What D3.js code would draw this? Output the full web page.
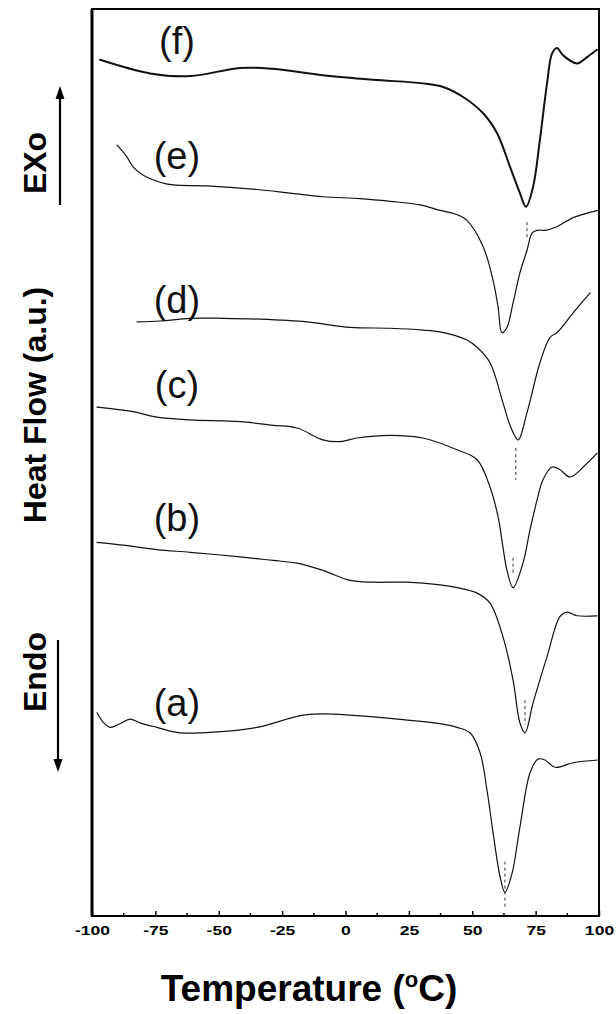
<!DOCTYPE html>
<html>
<head>
<meta charset="utf-8">
<script src="https://cdn.jsdelivr.net/npm/d3@7"></script>
<style>
  html, body { margin: 0; padding: 0; background: #fff; }
  svg { display: block; }
</style>
</head>
<body>
<svg id="chart" width="616" height="1014"></svg>
<script>
// Temperature axis
const xTicks = [-100, -75, -50, -25, 0, 25, 50, 75, 100];
const xMinorTicks = [-87.5, -62.5, -37.5, -12.5, 12.5, 37.5, 62.5, 87.5];

// DSC traces: [temperature (°C), heat flow (a.u.)], stacked from bottom (a) to top (f)
const curveA = [[-98.0,22.4],[-95.7,21.4],[-92.9,20.8],[-89.0,21.2],[-85.0,21.7],[-81.1,21.3],[-74.4,20.8],[-65.3,20.2],[-50.7,20.3],[-34.9,20.8],[-15.2,22.2],[4.5,22.1],[24.3,21.6],[37.3,21.2],[44.0,20.8],[49.1,20.2],[53.1,18.0],[55.8,13.9],[58.2,9.2],[61.0,4.3],[62.9,2.6],[65.7,4.7],[68.8,9.8],[72.8,15.8],[75.9,17.3],[78.7,17.2],[82.7,16.4],[89.8,16.9],[99.6,17.2]];
const curveB = [[-98.0,41.2],[-87.8,40.9],[-74.4,40.4],[-61.3,40.1],[-41.6,39.6],[-28.6,39.2],[-19.1,38.9],[-8.9,38.1],[1.8,37.0],[10.9,36.8],[24.3,36.8],[37.3,36.5],[44.0,36.2],[51.9,35.6],[57.0,34.5],[62.1,30.8],[66.1,26.0],[68.8,21.3],[70.8,20.2],[74.0,23.5],[79.5,28.6],[84.6,33.0],[87.4,33.5],[91.3,33.1],[99.2,33.1]];
const curveC = [[-98.0,56.1],[-83.8,55.6],[-74.4,55.0],[-61.3,54.7],[-41.6,54.5],[-28.6,54.1],[-19.1,53.8],[-8.9,52.5],[-2.2,52.3],[4.5,52.7],[17.6,53.0],[30.6,52.7],[44.0,51.4],[51.9,50.3],[57.0,47.3],[60.2,44.0],[62.1,40.7],[63.7,38.1],[66.1,36.2],[70.0,38.9],[72.8,42.6],[75.6,45.9],[77.9,48.1],[81.5,49.5],[84.6,49.2],[88.6,48.4],[94.5,49.7],[99.2,51.0]];
const curveD = [[-82.2,65.5],[-73.2,65.6],[-61.3,65.9],[-48.3,65.9],[-33.7,65.8],[-15.2,65.5],[1.8,64.9],[17.6,64.8],[30.6,64.6],[37.3,64.4],[47.9,63.5],[51.9,62.7],[57.0,61.0],[62.1,56.6],[64.9,54.1],[68.1,52.5],[71.6,55.5],[76.7,61.0],[80.7,63.8],[83.4,64.3],[89.8,66.5],[96.5,68.7]];
const curveE = [[-90.1,85.0],[-86.5,83.8],[-83.8,82.6],[-79.9,81.7],[-73.2,80.9],[-68.0,80.6],[-54.6,80.5],[-34.9,80.1],[-21.9,79.7],[-8.9,79.3],[5.7,79.1],[17.6,78.8],[29.4,78.4],[37.3,77.8],[43.2,77.4],[47.9,76.7],[54.3,73.8],[58.2,70.1],[60.2,67.1],[61.7,64.3],[63.7,64.9],[66.1,67.6],[68.8,70.9],[71.6,73.4],[73.6,75.3],[75.6,75.6],[78.7,75.6],[83.4,76.0],[89.8,77.0],[99.6,77.8]];
const curveF = [[-96.8,94.4],[-77.1,92.9],[-61.3,92.6],[-41.6,93.5],[-28.6,93.4],[-8.9,92.7],[10.9,92.2],[30.6,91.8],[38.5,91.4],[46.4,90.3],[54.3,88.5],[59.8,86.3],[64.9,82.6],[68.8,79.7],[71.2,78.2],[74.0,80.4],[76.7,85.6],[79.5,91.8],[81.5,95.1],[83.4,95.7],[85.8,94.9],[91.3,94.0],[95.3,94.7],[99.2,95.5]];

const curveNames = ["(a)", "(b)", "(c)", "(d)", "(e)", "(f)"];
// label anchor per trace: [temperature, heat flow] of the text baseline centre
const curveLabelAt = [[-66.5,22.1],[-66.5,42.4],[-66.5,57.1],[-66.5,66.5],[-66.5,82.4],[-66.5,95.0]];
// peak-temperature guide marks: [temperature, top, bottom] in heat-flow units
const peakMarks = [[62.9,6.0,1.0],[70.8,23.8,21.1],[66.1,39.5,37.6],[67.2,51.6,48.1],[71.6,76.5,74.5]];

const xTitle = "Temperature (";
const yTitle = "Heat Flow (a.u.)";
const exoLabel = "EXo";
const endoLabel = "Endo";

const FONT = "'Liberation Sans', Arial, Helvetica, sans-serif";
const svg = d3.select("#chart");
svg.append("rect").attr("width", 616).attr("height", 1014).attr("fill", "#fff");

const x = d3.scaleLinear().domain([-100, 100]).range([92, 599]);
const y = d3.scaleLinear().domain([0, 100]).range([916, 9]);

// traces
const line = d3.line()
  .x(d => x(d[0]))
  .y(d => y(d[1]))
  .curve(d3.curveCatmullRom.alpha(0.5));

const traces = [curveA, curveB, curveC, curveD, curveE, curveF];
svg.append("g").selectAll("path")
  .data(traces)
  .join("path")
  .attr("d", line)
  .attr("fill", "none")
  .attr("stroke", "#111")
  .attr("stroke-width", (d, i) => i === 5 ? 2 : 1.2)
  .attr("stroke-linejoin", "round")
  .attr("stroke-linecap", "round");

// peak guide marks
svg.append("g").selectAll("line")
  .data(peakMarks)
  .join("line")
  .attr("x1", d => x(d[0])).attr("x2", d => x(d[0]))
  .attr("y1", d => y(d[1])).attr("y2", d => y(d[2]))
  .attr("stroke", "#333")
  .attr("stroke-width", 1)
  .attr("stroke-dasharray", "3,3");

// trace labels
svg.append("g").selectAll("text")
  .data(curveNames)
  .join("text")
  .attr("x", (d, i) => x(curveLabelAt[i][0]))
  .attr("y", (d, i) => y(curveLabelAt[i][1]))
  .attr("text-anchor", "middle")
  .attr("font-family", FONT)
  .attr("font-size", 38)
  .attr("fill", "#111")
  .text(d => d);

// frame (left edge drawn heavier)
svg.append("rect")
  .attr("x", x(-100)).attr("y", y(100))
  .attr("width", x(100) - x(-100)).attr("height", y(0) - y(100))
  .attr("fill", "none")
  .attr("stroke", "#000")
  .attr("stroke-width", 2);
svg.append("line")
  .attr("x1", x(-100)).attr("x2", x(-100))
  .attr("y1", y(100)).attr("y2", y(0))
  .attr("stroke", "#000").attr("stroke-width", 3);

// bottom axis with inward ticks
const axis = d3.axisBottom(x)
  .tickValues(xTicks)
  .tickSizeInner(-5)
  .tickSizeOuter(0)
  .tickPadding(10)
  .tickFormat(d => String(d));

const gx = svg.append("g").attr("transform", `translate(0,${y(0)})`).call(axis);
gx.select(".domain").remove();
gx.selectAll(".tick line").attr("stroke", "#000").attr("stroke-width", 1.5);
gx.selectAll(".tick text")
  .attr("font-family", FONT)
  .attr("font-size", 13)
  .attr("font-weight", "bold")
  .attr("fill", "#000")
  .attr("transform", "scale(1.35,1)");

svg.append("g").selectAll("line")
  .data(xMinorTicks)
  .join("line")
  .attr("x1", d => x(d)).attr("x2", d => x(d))
  .attr("y1", y(0)).attr("y2", y(0) - 3)
  .attr("stroke", "#000").attr("stroke-width", 1.5);

// x title
const xt = svg.append("text")
  .attr("x", 309).attr("y", 1001)
  .attr("text-anchor", "middle")
  .attr("font-family", FONT)
  .attr("font-size", 37)
  .attr("font-weight", "bold")
  .attr("fill", "#000");
xt.append("tspan").text(xTitle);
xt.append("tspan").attr("font-size", 22).attr("dy", -14).text("o");
xt.append("tspan").attr("dy", 14).text("C)");

// y titles (rotated)
function vText(label, cx, cy) {
  svg.append("text")
    .attr("transform", `translate(${cx},${cy}) rotate(-90)`)
    .attr("text-anchor", "middle")
    .attr("font-family", FONT)
    .attr("font-size", 32)
    .attr("font-weight", "bold")
    .attr("fill", "#000")
    .text(label);
}
vText(yTitle, 46, 405);
vText(exoLabel, 46, 163);
vText(endoLabel, 46, 672);

// direction arrows
function arrow(xp, yFrom, yTo) {
  const dir = yTo < yFrom ? -1 : 1;
  svg.append("line")
    .attr("x1", xp).attr("x2", xp)
    .attr("y1", yFrom).attr("y2", yTo - dir * 10)
    .attr("stroke", "#000").attr("stroke-width", 2.2);
  svg.append("path")
    .attr("d", `M${xp},${yTo} L${xp - 4.5},${yTo - dir * 13} L${xp + 4.5},${yTo - dir * 13} Z`)
    .attr("fill", "#000");
}
arrow(60, 205, 86);
arrow(58, 640, 772);
</script>
</body>
</html>
